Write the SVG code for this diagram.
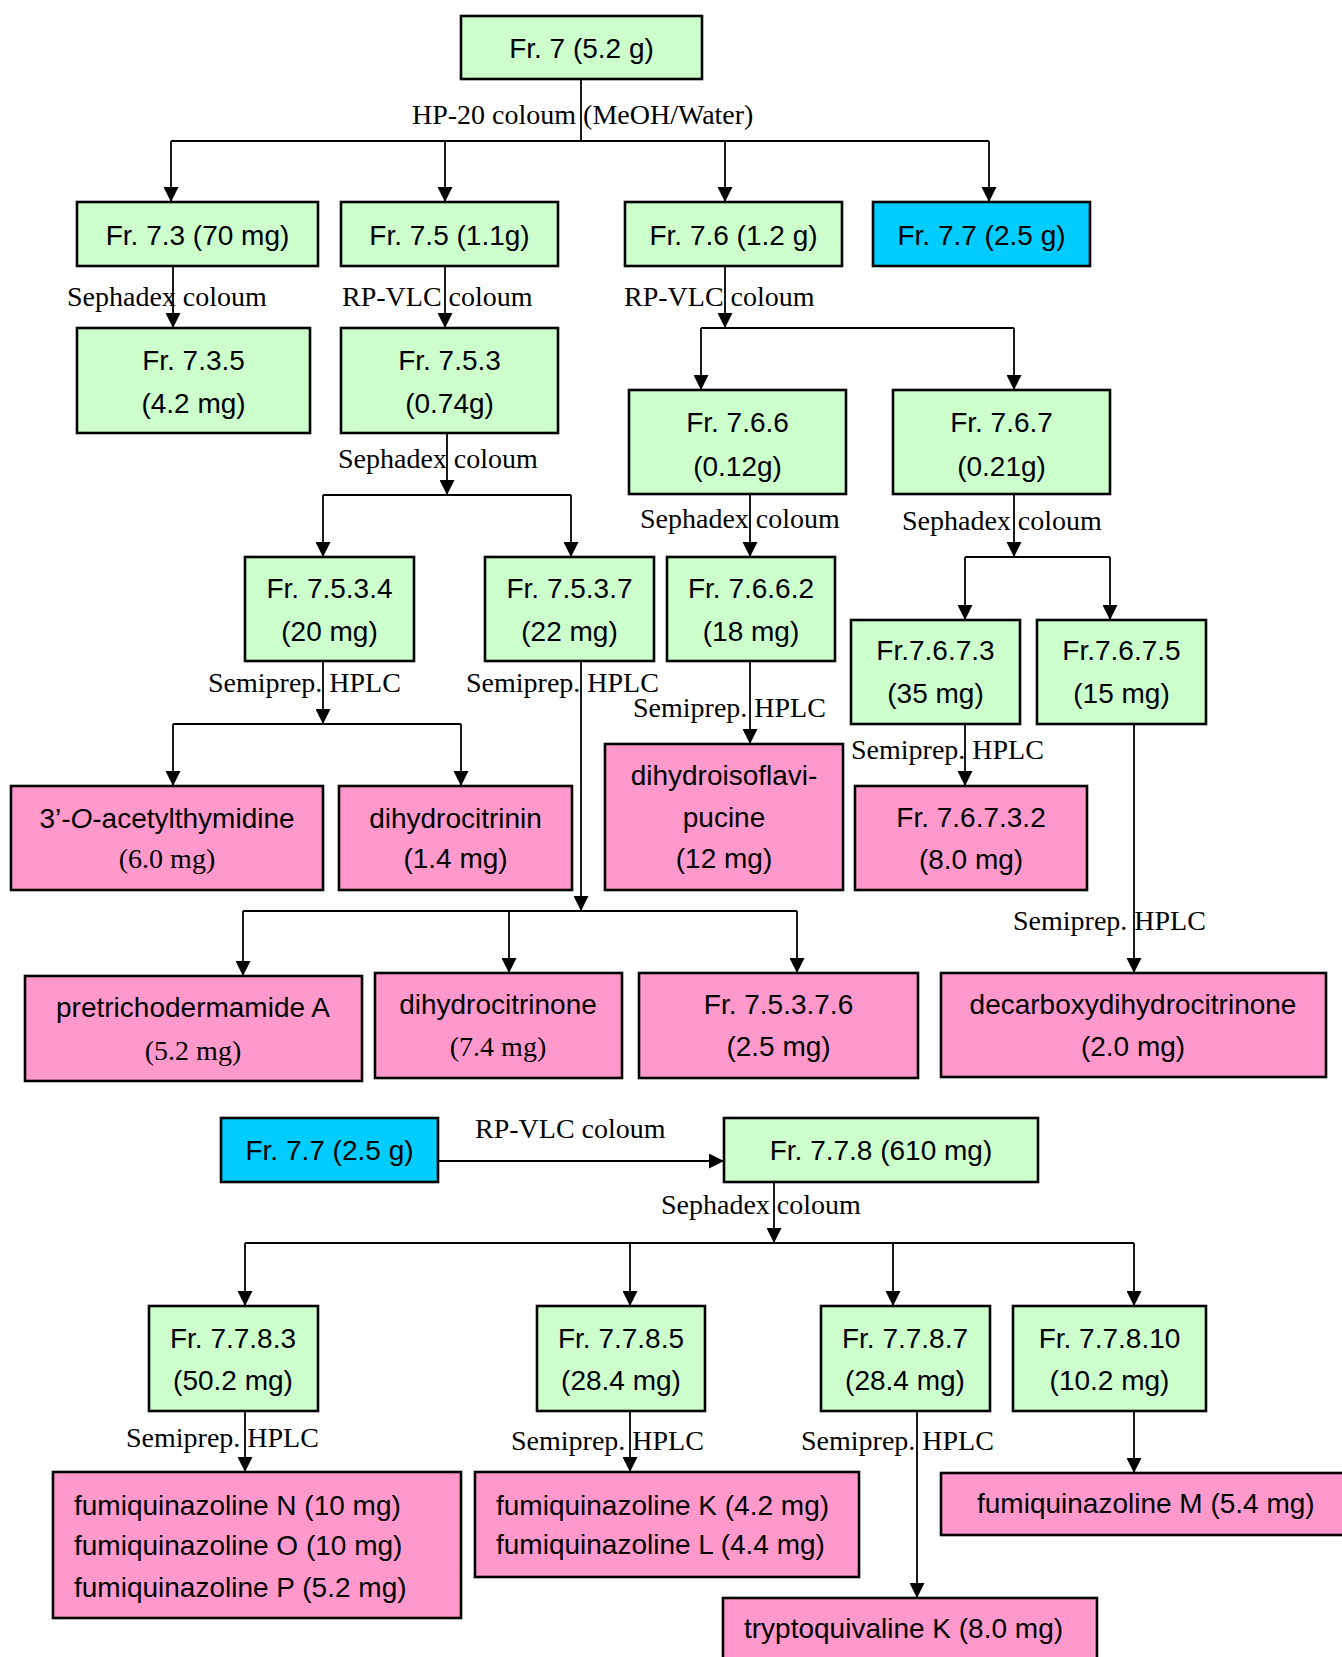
<svg xmlns="http://www.w3.org/2000/svg" width="1342" height="1657" viewBox="0 0 1342 1657">
<defs>
<marker id="ah" viewBox="0 0 15 15" refX="15" refY="7.5" markerWidth="15" markerHeight="15" markerUnits="userSpaceOnUse" orient="auto">
<path d="M0,0 L15,7.5 L0,15 Z" fill="#000"/>
</marker>
<style>
.g{fill:#CCFFCC;stroke:#000;stroke-width:2.6}
.p{fill:#FF99CC;stroke:#000;stroke-width:2.6}
.b{fill:#00CCFF;stroke:#000;stroke-width:2.6}
.t{font-family:"Liberation Sans",Arial,sans-serif;font-size:28px;fill:#000;text-anchor:middle}
.tl{font-family:"Liberation Sans",Arial,sans-serif;font-size:28px;fill:#000}
.s{font-family:"Liberation Serif","Times New Roman",serif;font-size:28px;fill:#000;text-anchor:middle}
.lab{font-family:"Liberation Serif","Times New Roman",serif;font-size:28px;fill:#000}
.c{fill:none;stroke:#000;stroke-width:1.8}
.a{fill:none;stroke:#000;stroke-width:1.8;marker-end:url(#ah)}
</style>
</defs>
<rect width="1342" height="1657" fill="#fff"/>

<g id="connectors">
<path class="c" d="M581,79 V141 M171,141 H989"/>
<path class="a" d="M171,141 V202"/>
<path class="a" d="M445,141 V202"/>
<path class="a" d="M725,141 V202"/>
<path class="a" d="M989,141 V202"/>
<path class="a" d="M173,266 V328"/>
<path class="a" d="M445,266 V328"/>
<path class="a" d="M725,266 V328"/>
<path class="c" d="M701,328 H1014"/>
<path class="a" d="M701,328 V390"/>
<path class="a" d="M1014,328 V390"/>
<path class="a" d="M447,433 V495"/>
<path class="c" d="M323,495 H571"/>
<path class="a" d="M323,495 V557"/>
<path class="a" d="M571,495 V557"/>
<path class="a" d="M750,494 V557"/>
<path class="a" d="M1014,494 V557"/>
<path class="c" d="M965,557 H1110"/>
<path class="a" d="M965,557 V620"/>
<path class="a" d="M1110,557 V620"/>
<path class="a" d="M323,661 V724"/>
<path class="c" d="M173,724 H461"/>
<path class="a" d="M173,724 V786"/>
<path class="a" d="M461,724 V786"/>
<path class="a" d="M581,661 V911"/>
<path class="c" d="M243,911 H797"/>
<path class="a" d="M243,911 V976"/>
<path class="a" d="M509,911 V973"/>
<path class="a" d="M797,911 V973"/>
<path class="a" d="M750,661 V744"/>
<path class="a" d="M965,724 V786"/>
<path class="a" d="M1134,724 V973"/>
<path class="a" d="M438,1161 H724"/>
<path class="a" d="M774,1182 V1243"/>
<path class="c" d="M245,1243 H1134"/>
<path class="a" d="M245,1243 V1306"/>
<path class="a" d="M630,1243 V1306"/>
<path class="a" d="M893,1243 V1306"/>
<path class="a" d="M1134,1243 V1306"/>
<path class="a" d="M245,1411 V1472"/>
<path class="a" d="M630,1411 V1472"/>
<path class="a" d="M917,1411 V1598"/>
<path class="a" d="M1134,1411 V1473"/>
<text class="lab" x="412" y="124">HP-20 coloum (MeOH/Water)</text>
<text class="lab" x="67" y="306">Sephadex coloum</text>
<text class="lab" x="342" y="306">RP-VLC coloum</text>
<text class="lab" x="624" y="306">RP-VLC coloum</text>
<text class="lab" x="338" y="468">Sephadex coloum</text>
<text class="lab" x="640" y="528">Sephadex coloum</text>
<text class="lab" x="902" y="530">Sephadex coloum</text>
<text class="lab" x="208" y="692">Semiprep. HPLC</text>
<text class="lab" x="466" y="692">Semiprep. HPLC</text>
<text class="lab" x="633" y="717">Semiprep. HPLC</text>
<text class="lab" x="851" y="759">Semiprep. HPLC</text>
<text class="lab" x="1013" y="930">Semiprep. HPLC</text>
<text class="lab" x="475" y="1138">RP-VLC coloum</text>
<text class="lab" x="661" y="1214">Sephadex coloum</text>
<text class="lab" x="126" y="1447">Semiprep. HPLC</text>
<text class="lab" x="511" y="1450">Semiprep. HPLC</text>
<text class="lab" x="801" y="1450">Semiprep. HPLC</text>
</g>

<g id="n7"><rect class="g" x="461" y="16" width="241" height="63"/><text class="t" x="581.5" y="58">Fr. 7 (5.2 g)</text></g>
<g id="n7_3"><rect class="g" x="77" y="202" width="241" height="64"/><text class="t" x="197.5" y="245">Fr. 7.3 (70 mg)</text></g>
<g id="n7_5"><rect class="g" x="341" y="202" width="217" height="64"/><text class="t" x="449.5" y="245">Fr. 7.5 (1.1g)</text></g>
<g id="n7_6"><rect class="g" x="625" y="202" width="217" height="64"/><text class="t" x="733.5" y="245">Fr. 7.6 (1.2 g)</text></g>
<g id="n7_7"><rect class="b" x="873" y="202" width="217" height="64"/><text class="t" x="981.5" y="245">Fr. 7.7 (2.5 g)</text></g>
<g id="n7_3_5"><rect class="g" x="77" y="328" width="233" height="105"/><text class="t" x="193.5" y="370">Fr. 7.3.5</text><text class="t" x="193.5" y="413">(4.2 mg)</text></g>
<g id="n7_5_3"><rect class="g" x="341" y="328" width="217" height="105"/><text class="t" x="449.5" y="370">Fr. 7.5.3</text><text class="t" x="449.5" y="413">(0.74g)</text></g>
<g id="n7_6_6"><rect class="g" x="629" y="390" width="217" height="104"/><text class="t" x="737.5" y="432">Fr. 7.6.6</text><text class="t" x="737.5" y="476">(0.12g)</text></g>
<g id="n7_6_7"><rect class="g" x="893" y="390" width="217" height="104"/><text class="t" x="1001.5" y="432">Fr. 7.6.7</text><text class="t" x="1001.5" y="476">(0.21g)</text></g>
<g id="n7_5_3_4"><rect class="g" x="245" y="557" width="169" height="104"/><text class="t" x="329.5" y="598">Fr. 7.5.3.4</text><text class="t" x="329.5" y="641">(20 mg)</text></g>
<g id="n7_5_3_7"><rect class="g" x="485" y="557" width="169" height="104"/><text class="t" x="569.5" y="598">Fr. 7.5.3.7</text><text class="t" x="569.5" y="641">(22 mg)</text></g>
<g id="n7_6_6_2"><rect class="g" x="667" y="557" width="168" height="104"/><text class="t" x="751" y="598">Fr. 7.6.6.2</text><text class="t" x="751" y="641">(18 mg)</text></g>
<g id="n7_6_7_3"><rect class="g" x="851" y="620" width="169" height="104"/><text class="t" x="935.5" y="660">Fr.7.6.7.3</text><text class="t" x="935.5" y="703">(35 mg)</text></g>
<g id="n7_6_7_5"><rect class="g" x="1037" y="620" width="169" height="104"/><text class="t" x="1121.5" y="660">Fr.7.6.7.5</text><text class="t" x="1121.5" y="703">(15 mg)</text></g>
<g id="acetylthymidine"><rect class="p" x="11" y="786" width="312" height="104"/><text class="t" x="167" y="828">3’-<tspan font-style="italic">O</tspan>-acetylthymidine</text><text class="s" x="167" y="868">(6.0 mg)</text></g>
<g id="dihydrocitrinin"><rect class="p" x="339" y="786" width="233" height="104"/><text class="t" x="455.5" y="828">dihydrocitrinin</text><text class="t" x="455.5" y="868">(1.4 mg)</text></g>
<g id="dihydroisoflavipucine"><rect class="p" x="605" y="744" width="238" height="146"/><text class="t" x="724" y="785">dihydroisoflavi-</text><text class="t" x="724" y="827">pucine</text><text class="t" x="724" y="868">(12 mg)</text></g>
<g id="n7_6_7_3_2"><rect class="p" x="855" y="786" width="232" height="104"/><text class="t" x="971" y="827">Fr. 7.6.7.3.2</text><text class="t" x="971" y="869">(8.0 mg)</text></g>
<g id="pretrichodermamideA"><rect class="p" x="25" y="976" width="337" height="105"/><text class="t" x="193" y="1017">pretrichodermamide A</text><text class="s" x="193" y="1060">(5.2 mg)</text></g>
<g id="dihydrocitrinone"><rect class="p" x="375" y="973" width="247" height="105"/><text class="t" x="498" y="1014">dihydrocitrinone</text><text class="s" x="498" y="1056">(7.4 mg)</text></g>
<g id="n7_5_3_7_6"><rect class="p" x="639" y="973" width="279" height="105"/><text class="t" x="778.5" y="1014">Fr. 7.5.3.7.6</text><text class="t" x="778.5" y="1056">(2.5 mg)</text></g>
<g id="decarboxydihydrocitrinone"><rect class="p" x="941" y="973" width="385" height="104"/><text class="t" x="1133" y="1014">decarboxydihydrocitrinone</text><text class="t" x="1133" y="1056">(2.0 mg)</text></g>
<g id="n7_7b"><rect class="b" x="221" y="1118" width="217" height="64"/><text class="t" x="329.5" y="1160">Fr. 7.7 (2.5 g)</text></g>
<g id="n7_7_8"><rect class="g" x="724" y="1118" width="314" height="64"/><text class="t" x="881" y="1160">Fr. 7.7.8 (610 mg)</text></g>
<g id="n7_7_8_3"><rect class="g" x="149" y="1306" width="169" height="105"/><text class="t" x="233" y="1348">Fr. 7.7.8.3</text><text class="t" x="233" y="1390">(50.2 mg)</text></g>
<g id="n7_7_8_5"><rect class="g" x="537" y="1306" width="168" height="105"/><text class="t" x="621" y="1348">Fr. 7.7.8.5</text><text class="t" x="621" y="1390">(28.4 mg)</text></g>
<g id="n7_7_8_7"><rect class="g" x="821" y="1306" width="169" height="105"/><text class="t" x="905" y="1348">Fr. 7.7.8.7</text><text class="t" x="905" y="1390">(28.4 mg)</text></g>
<g id="n7_7_8_10"><rect class="g" x="1013" y="1306" width="193" height="105"/><text class="t" x="1109.5" y="1348">Fr. 7.7.8.10</text><text class="t" x="1109.5" y="1390">(10.2 mg)</text></g>
<g id="fumiquinazolineNOP"><rect class="p" x="53" y="1472" width="408" height="146"/><text class="tl" x="74" y="1515">fumiquinazoline N (10 mg)</text><text class="tl" x="74" y="1555">fumiquinazoline O (10 mg)</text><text class="tl" x="74" y="1597">fumiquinazoline P (5.2 mg)</text></g>
<g id="fumiquinazolineKL"><rect class="p" x="475" y="1472" width="384" height="105"/><text class="tl" x="496" y="1515">fumiquinazoline K (4.2 mg)</text><text class="tl" x="496" y="1554">fumiquinazoline L (4.4 mg)</text></g>
<g id="fumiquinazolineM"><rect class="p" x="941" y="1473" width="420" height="62"/><text class="tl" x="977" y="1513">fumiquinazoline M (5.4 mg)</text></g>
<g id="tryptoquivalineK"><rect class="p" x="723" y="1598" width="374" height="80"/><text class="tl" x="744" y="1638">tryptoquivaline K (8.0 mg)</text></g>
</svg>
